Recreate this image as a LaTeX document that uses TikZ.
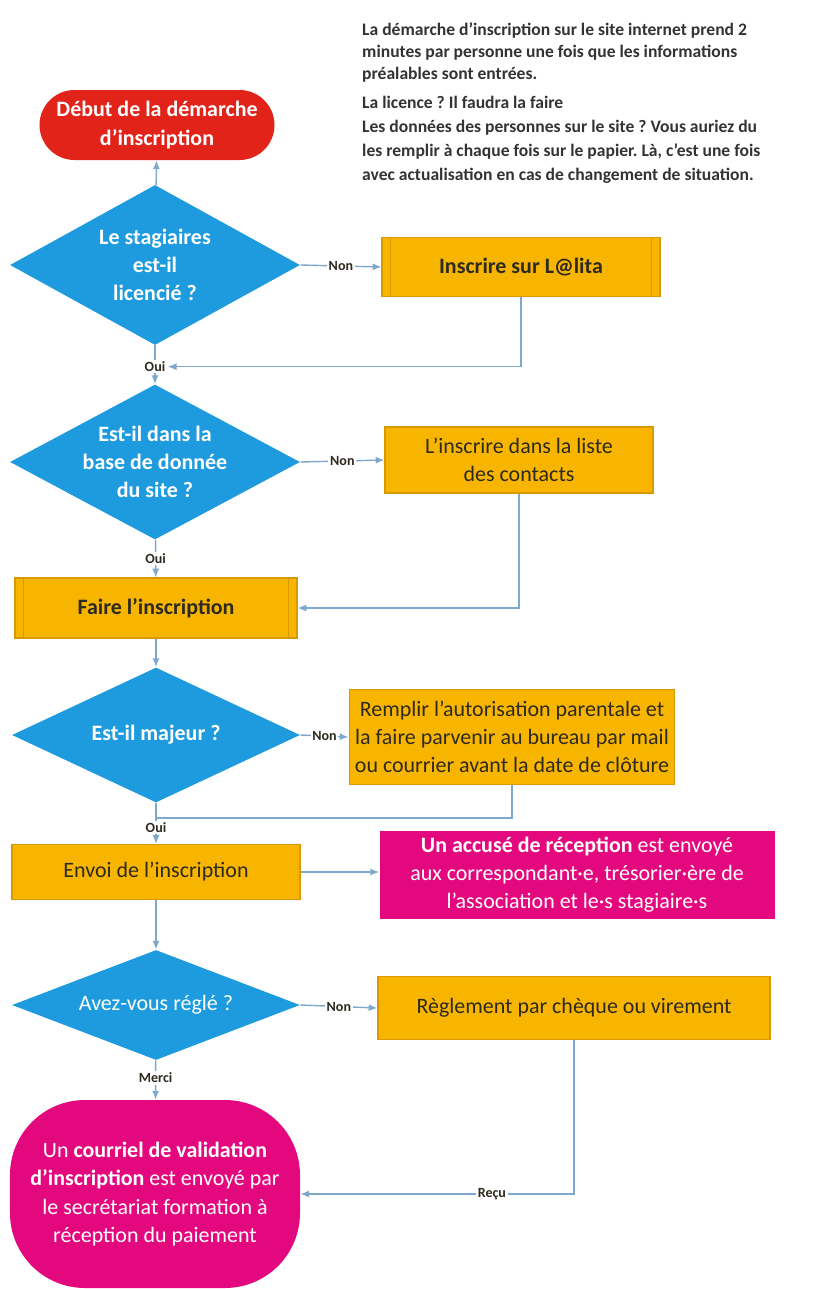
\documentclass[tikz,border=0pt]{standalone}
\usepackage{fontspec}
\setmainfont{Carlito}
\usepackage{tikz}
\usetikzlibrary{positioning,shapes.geometric,arrows.meta}
\definecolor{startRed}{HTML}{E2231A}
\definecolor{askBlue}{HTML}{1E9BDF}
\definecolor{taskOrange}{HTML}{F7B500}
\definecolor{taskEdge}{HTML}{D89A00}
\definecolor{notePink}{HTML}{E4087E}
\definecolor{linkBlue}{HTML}{7FA8CF}
\definecolor{inkDark}{HTML}{2E2A20}
\definecolor{noteInk}{HTML}{333333}
\newcommand{\boxFont}{\fontsize{12.5}{16}\selectfont}
\newcommand{\tagFont}{\fontsize{8}{9}\selectfont\bfseries}
\tikzset{
		startStyle/.style = {fill=startRed, text=white, rounded corners=0.7cm, minimum width=4.7cm, minimum height=1.4cm, align=center, font=\boxFont\bfseries},
		question/.style =   {diamond, aspect=1.8, fill=askBlue, text=white, inner sep=0pt, minimum width=5.8cm, minimum height=3.2cm, align=center, font=\boxFont\bfseries},
		task/.style =       {rectangle, fill=taskOrange, draw=taskEdge, line width=0.6pt, text=inkDark, align=center, font=\boxFont},
		procTask/.style =   {task, font=\boxFont\bfseries, path picture={
		                       \foreach \side/\shift in {west/5pt, east/-5pt}
		                         \draw [taskEdge, line width=0.6pt] ([xshift=\shift]path picture bounding box.north \side) -- ([xshift=\shift]path picture bounding box.south \side);}},
		notice/.style =     {fill=notePink, text=white, align=center, font=\boxFont},
		noteText/.style =   {anchor=north west, align=left, text=noteInk, font=\fontsize{10}{12.5}\selectfont\bfseries},
		link/.style =       {draw=linkBlue, line width=0.8pt, -{Latex[length=5pt,width=4pt]}},
		plainLink/.style =  {draw=linkBlue, line width=0.8pt},
		tag/.style =        {fill=white, text=inkDark, font=\tagFont, inner sep=1pt},
		node distance=1.5cm
}
\frenchspacing

\begin{document}
\begin{tikzpicture}[x=0.2mm, y=-0.2mm]
  \useasboundingbox (0,0) rectangle (840,1289);

  % Draw the note in the upper right corner
  \node [noteText] (note) at (356,17) {La démarche d’inscription sur le site internet prend 2\\
    minutes par personne une fois que les informations\\
    préalables sont entrées.\\[4pt]
    La licence ? Il faudra la faire\\[1pt]
    Les données des personnes sur le site ? Vous auriez du\\[1pt]
    les remplir à chaque fois sur le papier. Là, c’est une fois\\[1pt]
    avec actualisation en cas de changement de situation.};

  % Draw the left column
  \node [startStyle] (start) at (157,125) {Début de la démarche\\d’inscription};
  \node [question] (q1) at (155,265) {Le stagiaires\\est-il\\licencié ?};
  \node [question, minimum height=3.1cm] (q2) at (155,462) {Est-il dans la\\base de donnée\\du site ?};
  \node [procTask, minimum width=5.64cm, minimum height=1.2cm] (t3) at (156,608) {Faire l’inscription};
  \node [question, minimum width=5.76cm, minimum height=2.7cm] (q3) at (156,735) {Est-il majeur ?};
  \node [task, minimum width=5.76cm, minimum height=1.1cm] (t5) at (156,872) {Envoi de l’inscription};
  \node [question, minimum width=5.76cm, minimum height=2.2cm, font=\boxFont] (q4) at (156,1005) {Avez-vous réglé ?};
  \node [notice, rounded corners=1.5cm, minimum width=5.8cm, minimum height=3.76cm] (final) at (155,1194)
        {Un \textbf{courriel de validation}\\\textbf{d’inscription} est envoyé par\\le secrétariat formation à\\réception du paiement};

  % Draw the right column
  \node [procTask, minimum width=5.56cm, minimum height=1.18cm] (t1) at (521,267) {Inscrire sur L@lita};
  \node [task, minimum width=5.36cm, minimum height=1.32cm] (t2) at (519,460) {L’inscrire dans la liste\\des contacts};
  \node [task, minimum width=5.5cm, minimum height=1.9cm] (t4) at (512,737)
        {Remplir l’autorisation parentale et\\la faire parvenir au bureau par mail\\ou courrier avant la date de clôture};
  \node [notice, minimum width=7.9cm, minimum height=1.6cm] (n1) at (577,875)
        {\textbf{Un accusé de réception} est envoyé\\aux correspondant·e, trésorier·ère de\\l’association et le·s stagiaire·s};
  \node [task, minimum width=7.84cm, minimum height=1.26cm] (t6) at (574,1008) {Règlement par chèque ou virement};

  % Draw the main flow
  \draw [link] (q1) -- (start);
  \draw [link] (q1) -- node [tag, pos=0.55] (ouiA) {Oui} (q2);
  \draw [link] (q2) -- node [tag, pos=0.5] {Oui} (t3);
  \draw [link] (t3) -- (q3);
  \draw [link] (q3) -- node [tag, pos=0.6] (ouiC) {Oui} (t5);
  \draw [link] (t5) -- (q4);
  \draw [link] (q4) -- node [tag, pos=0.45] {Merci} (final);
  \draw [link] (t5.east) -- (t5.east -| n1.west);

  % Draw the Non branches
  \foreach \q/\t in {q1/t1, q2/t2, q3/t4, q4/t6}
    \draw [link] (\q.east) -- node [tag] {Non} (\t.west);

  % Draw the returns
  \coordinate (joinC) at (156,818);
  \draw [link] (t1.south) -- (t1.south |- ouiA) -- (ouiA.east);
  \draw [link] (t2.south) -- (t2.south |- t3.east) -- (t3.east);
  \draw [plainLink] (t4.south) -- (t4.south |- joinC) -- (joinC);
  \draw [link] (t6.south) -- (t6.south |- final.east) -- node [tag, pos=0.3] {Reçu} (final.east);
\end{tikzpicture}
\end{document}
